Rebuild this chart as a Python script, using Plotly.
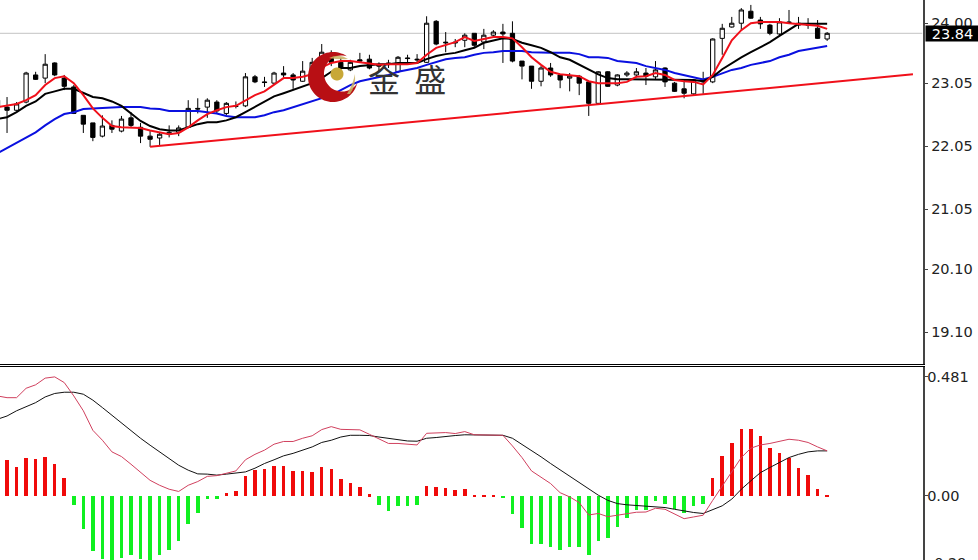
import math
import plotly.graph_objects as go

bars = list(range(88))
opens = [22.78,
 22.67,22.62,22.75,23.18,23.13,23.37,23.13,22.99,22.54,22.42,
 22.21,22.38,22.29,22.50,22.35,22.21,22.18,22.24,22.27,22.35,
 22.65,22.67,22.75,22.57,22.69,22.69,23.15,23.07,23.05,23.21,
 23.18,23.08,23.23,23.35,23.50,23.38,23.26,23.42,23.43,23.34,
 23.37,23.23,23.45,23.43,23.38,24.03,23.70,23.70,23.73,23.84,
 23.70,23.81,23.86,23.84,23.40,23.32,23.08,23.29,23.18,23.13,
 23.16,23.07,22.73,23.23,23.02,23.18,23.18,23.21,23.15,23.29,
 23.05,22.96,22.88,23.11,23.07,23.76,23.94,24.00,24.19,24.05,
 23.97,23.83,24.02,24.00,23.99,23.92,23.75]
highs = [22.86,
 22.83,22.75,23.23,23.23,23.51,23.38,23.18,23.02,22.54,22.42,
 22.54,22.46,22.53,22.59,22.42,22.29,22.27,22.38,22.38,22.78,
 22.81,22.81,22.78,22.75,22.76,23.21,23.18,23.15,23.23,23.32,
 23.21,23.40,23.45,23.67,23.57,23.45,23.42,23.53,23.50,23.38,
 23.42,23.48,23.50,23.51,24.11,24.05,23.86,23.75,23.84,23.84,
 23.91,23.89,23.99,24.03,23.40,23.32,23.32,23.37,23.18,23.21,
 23.18,23.07,23.24,23.24,23.19,23.24,23.29,23.29,23.40,23.30,
 23.07,23.10,23.11,23.23,23.76,23.99,24.10,24.24,24.29,24.10,
 23.99,24.08,24.21,24.10,24.08,24.05,23.86]
lows = [22.65,
 22.26,22.61,22.73,23.10,23.05,23.16,22.94,22.56,22.26,22.13,
 22.19,22.26,22.27,22.35,22.10,22.04,22.07,22.19,22.21,22.35,
 22.57,22.50,22.57,22.54,22.65,22.67,23.05,22.99,23.03,23.13,
 22.96,23.07,23.18,23.32,23.32,23.23,23.24,23.37,23.27,23.23,
 23.29,23.21,23.37,23.37,23.37,23.65,23.54,23.62,23.62,23.62,
 23.59,23.78,23.37,23.38,23.11,22.96,23.00,23.15,22.97,22.92,
 22.86,22.53,22.72,22.99,23.00,23.15,23.15,23.02,23.10,22.99,
 22.91,22.81,22.86,22.88,23.05,23.50,23.93,23.88,24.07,23.91,
 23.81,23.81,23.99,23.91,23.91,23.75,23.72]
closes = [22.67,
 22.62,22.72,23.21,23.11,23.35,23.18,23.00,22.57,22.40,22.19,
 22.37,22.32,22.48,22.38,22.21,22.16,22.24,22.27,22.34,22.65,
 22.64,22.78,22.61,22.73,22.68,23.15,23.07,23.06,23.21,23.18,
 23.10,23.24,23.38,23.54,23.38,23.29,23.38,23.40,23.29,23.32,
 23.35,23.46,23.44,23.42,24.00,23.67,23.69,23.69,23.81,23.65,
 23.81,23.86,23.83,23.40,23.32,23.08,23.29,23.18,23.10,23.16,
 23.05,22.73,23.23,23.00,23.18,23.21,23.23,23.16,23.26,23.07,
 22.92,22.89,23.10,23.07,23.75,23.92,24.00,24.21,24.08,23.99,
 23.84,24.02,24.01,23.97,23.97,23.76,23.84]

ma_red = [22.67,22.69,22.72,22.78,22.86,23.02,23.13,23.16,23.05,22.86,22.65,
 22.50,22.37,22.35,22.35,22.34,22.30,22.27,22.24,22.26,22.35,
 22.46,22.56,22.62,22.67,22.69,22.78,22.86,22.92,23.02,23.13,
 23.13,23.15,23.19,23.30,23.37,23.40,23.40,23.38,23.37,23.34,
 23.35,23.35,23.35,23.37,23.50,23.61,23.65,23.70,23.78,23.72,
 23.75,23.78,23.78,23.76,23.62,23.46,23.34,23.23,23.19,23.18,
 23.16,23.08,23.05,23.05,23.05,23.07,23.15,23.16,23.21,23.18,
 23.10,23.08,23.07,23.03,23.18,23.45,23.73,23.89,24.00,24.02,
 24.02,24.02,24.00,23.99,23.97,23.96,23.91]
ma_black = [22.48,22.51,22.59,22.69,22.76,22.88,22.92,22.96,22.96,22.89,22.83,
 22.81,22.76,22.69,22.57,22.45,22.37,22.32,22.30,22.30,22.35,
 22.40,22.43,22.43,22.46,22.51,22.59,22.67,22.75,22.84,22.89,
 22.94,23.00,23.05,23.13,23.23,23.29,23.29,23.32,23.34,23.35,
 23.35,23.37,23.37,23.37,23.43,23.48,23.51,23.53,23.57,23.61,
 23.69,23.72,23.76,23.75,23.69,23.65,23.61,23.54,23.46,23.42,
 23.34,23.27,23.19,23.13,23.11,23.11,23.11,23.11,23.11,23.11,
 23.11,23.10,23.10,23.08,23.15,23.27,23.37,23.46,23.54,23.62,
 23.70,23.80,23.89,23.99,23.99,23.99,23.99]
ma_blue = [21.94,22.02,22.10,22.18,22.27,22.38,22.48,22.56,22.59,22.64,22.65,
 22.65,22.67,22.67,22.67,22.67,22.65,22.64,22.61,22.61,22.61,
 22.61,22.59,22.57,22.53,22.51,22.51,22.51,22.54,22.59,22.62,
 22.67,22.72,22.76,22.81,22.86,22.94,23.02,23.08,23.11,23.15,
 23.18,23.23,23.26,23.29,23.34,23.38,23.43,23.45,23.46,23.50,
 23.53,23.54,23.56,23.56,23.56,23.54,23.53,23.53,23.53,23.53,
 23.51,23.46,23.46,23.45,23.40,23.38,23.37,23.32,23.29,23.26,
 23.21,23.18,23.15,23.11,23.15,23.21,23.26,23.29,23.34,23.37,
 23.40,23.46,23.50,23.56,23.59,23.61,23.64]

trend_x = [16, 96]
trend_y = [22.04, 23.19]
last_price = 23.84

macd_hist = [0.14,
 .146,.117,.154,.150,.158,.129,.073,-.036,-.133,-.222,
 -.251,-.263,-.247,-.238,-.251,-.259,-.238,-.218,-.182,-.113,
 -.065,-.012,-.012,.012,.020,.081,.105,.109,.121,.121,
 .101,.101,.097,.117,.109,.069,.053,.040,.008,-.036,
 -.057,-.040,-.040,-.036,.044,.040,.032,.024,.028,.004,
 .004,.004,-.004,-.073,-.129,-.194,-.194,-.206,-.218,-.206,
 -.206,-.238,-.182,-.170,-.125,-.089,-.053,-.053,-.020,-.032,
 -.049,-.065,-.040,-.032,.073,.162,.214,.271,.271,.243,
 .194,.174,.154,.113,.085,.028,.004]
macd_dif = [.404,.397,.397,.435,.449,.476,.481,.458,.404,.344,.265,
 .225,.178,.159,.128,.094,.063,.043,.027,.018,.043,
 .058,.079,.082,.092,.101,.146,.168,.185,.209,.220,
 .220,.233,.243,.268,.280,.269,.267,.267,.249,.229,
 .212,.212,.209,.206,.253,.256,.256,.252,.260,.247,
 .247,.247,.245,.202,.155,.101,.077,.050,.013,-.004,
 -.027,-.077,-.071,-.084,-.078,-.071,-.066,-.065,-.050,-.054,
 -.074,-.092,-.085,-.078,-.018,.040,.101,.155,.193,.206,
 .212,.222,.229,.225,.216,.198,.182]
macd_dea = [.310,.323,.344,.361,.377,.400,.414,.419,.419,.411,.387,
 .357,.326,.294,.265,.233,.205,.178,.148,.124,.104,
 .089,.088,.084,.088,.092,.097,.112,.131,.146,.162,
 .172,.185,.198,.216,.225,.238,.245,.245,.244,.238,
 .233,.228,.222,.221,.233,.236,.241,.244,.247,.247,
 .247,.247,.245,.233,.209,.182,.158,.131,.105,.081,
 .054,.027,.003,-.018,-.031,-.036,-.038,-.042,-.044,-.047,
 -.054,-.061,-.067,-.071,-.057,-.040,-.013,.027,.061,.094,
 .115,.135,.155,.168,.178,.182,.182]

price_ticks = [24.00, 23.05, 22.05, 21.05, 20.10, 19.10]
price_labels = ["24.00", "23.05", "22.05", "21.05", "20.10", "19.10"]
macd_ticks = [0.481, 0.0]
macd_labels = ["0.481", "0.00"]
macd_low_label = "-0.29"
logo_text = "金  盛"

fig = go.Figure()
fig.add_trace(go.Candlestick(
    x=bars, open=opens, high=highs, low=lows, close=closes,
    increasing=dict(line=dict(color="#000000", width=1), fillcolor="#ffffff"),
    decreasing=dict(line=dict(color="#000000", width=1), fillcolor="#000000"),
    whiskerwidth=0, xaxis="x", yaxis="y", showlegend=False))
for vals, col in ((ma_blue, "#0a10e0"), (ma_black, "#000000"), (ma_red, "#f0101a")):
    fig.add_trace(go.Scatter(x=bars, y=vals, mode="lines", line=dict(color=col, width=2),
                             xaxis="x", yaxis="y", showlegend=False))
fig.add_trace(go.Scatter(x=trend_x, y=trend_y, mode="lines", line=dict(color="#f0101a", width=2),
                         xaxis="x", yaxis="y", showlegend=False))

fig.add_trace(go.Bar(x=bars, y=macd_hist, width=0.37,
                     marker=dict(color=["#f00a0a" if v >= 0 else "#10f020" for v in macd_hist], line_width=0),
                     xaxis="x2", yaxis="y2", showlegend=False))
fig.add_trace(go.Scatter(x=bars, y=macd_dea, mode="lines", line=dict(color="#111111", width=1),
                         xaxis="x2", yaxis="y2", showlegend=False))
fig.add_trace(go.Scatter(x=bars, y=macd_dif, mode="lines", line=dict(color="#d0405e", width=1),
                         xaxis="x2", yaxis="y2", showlegend=False))

W, H = 978, 560
axis_font = dict(family="DejaVu Sans", size=14.5, color="#222222")
xd = [0, 922.5 / W]
logo_x, logo_y = 333 / W, 1 - 77 / H


def polygon(points):
    return "M " + " L ".join(f"{x:.1f},{y:.1f}" for x, y in points) + " Z"


def disc(cx, cy, r):
    return polygon([(cx + r * math.cos(i * math.pi / 24), cy + r * math.sin(i * math.pi / 24))
                    for i in range(48)])


def crescent(r_out, cx, cy, r_in):
    d = math.hypot(cx, cy)
    base = math.atan2(cy, cx)
    phi = math.acos((r_out ** 2 + d ** 2 - r_in ** 2) / (2 * r_out * d))
    start, end = base + phi, base - phi + 2 * math.pi
    pts = [(r_out * math.cos(start + (end - start) * i / 60),
            r_out * math.sin(start + (end - start) * i / 60)) for i in range(61)]
    ex, ey = pts[-1]
    sx, sy = pts[0]
    a1 = math.atan2(ey - cy, ex - cx)
    a2 = math.atan2(sy - cy, sx - cx)
    while a2 > a1:
        a2 -= 2 * math.pi
    pts += [(cx + r_in * math.cos(a1 + (a2 - a1) * i / 40),
             cy + r_in * math.sin(a1 + (a2 - a1) * i / 40)) for i in range(41)]
    return polygon(pts)


def logo_shape(path, color, op=1.0):
    return dict(type="path", path=path, xref="paper", yref="paper", xsizemode="pixel",
                ysizemode="pixel", xanchor=logo_x, yanchor=logo_y, fillcolor=color,
                line_width=0, opacity=op, layer="above")


fig.update_layout(
    width=W, height=H, margin=dict(l=0, r=0, t=0, b=0),
    autosize=False, paper_bgcolor="#ffffff", plot_bgcolor="#ffffff",
    showlegend=False, hovermode=False, boxgap=0.36, bargap=0,
    xaxis=dict(domain=xd, range=[0.262, 97.0], showgrid=False, zeroline=False,
               showticklabels=False, ticks="", rangeslider=dict(visible=False),
               showline=True, linecolor="#000000", linewidth=1, anchor="y"),
    yaxis=dict(domain=[1 - 364 / H, 1], range=[18.59 + 0.008, 24.368], side="right", anchor="x",
               tickmode="array", tickvals=price_ticks, ticktext=price_labels,
               showgrid=False, zeroline=False, ticks="outside", ticklen=4, tickcolor="#444444",
               showline=True, linecolor="#444444", linewidth=1.5, tickfont=axis_font),
    xaxis2=dict(domain=xd, range=[0.262, 97.0], showgrid=False, zeroline=False,
                showticklabels=False, ticks="", side="top", anchor="y2",
                showline=True, linecolor="#000000", linewidth=1),
    yaxis2=dict(domain=[0, 1 - 366.5 / H], range=[-0.259, 0.523], side="right", anchor="x2",
                tickmode="array", tickvals=macd_ticks, ticktext=macd_labels,
                showgrid=False, zeroline=False, ticks="outside", ticklen=4, tickcolor="#444444",
                showline=True, linecolor="#444444", linewidth=1.5, tickfont=axis_font,
                ticklabelstandoff=-4),
    shapes=[
        dict(type="line", xref="x", yref="y", x0=0.262, x1=97.0, y0=last_price, y1=last_price,
             line=dict(color="#c4c4c4", width=1), layer="below"),
        logo_shape(crescent(25, 9, 3.5, 18), "#b80f14"),
        logo_shape(disc(4, 3, 6.5), "#c8a838"),
        logo_shape("M -4,19 Q 6,24 15,18 Q 6,17 -4,19 Z", "#c8b060", 0.85),
        logo_shape("M 17,-17 Q 23,-9 22,3 Q 20,-7 14,-17 Z", "#c8b060", 0.85),
    ],
    annotations=[
        dict(text=logo_text, xref="paper", yref="paper", x=407 / W, y=1 - 78 / H,
             xanchor="center", yanchor="middle", showarrow=False,
             font=dict(family="Noto Sans CJK SC", size=32, color="#333333")),
        dict(text=str(last_price), xref="paper", yref="y", x=925 / W, y=last_price,
             xanchor="left", yanchor="middle", showarrow=False, bgcolor="#000000",
             width=53, height=15, borderpad=0, align="center",
             font=dict(family="DejaVu Sans", size=14.5, color="#ffffff")),
        dict(text=macd_low_label, xref="paper", yref="paper", x=927 / W, y=-3 / H,
             xanchor="left", yanchor="middle", showarrow=False, font=axis_font),
    ],
)
fig.write_html("out.html", config=dict(displayModeBar=False),
               post_script="document.body.style.margin='0';document.documentElement.style.overflow='hidden';")
